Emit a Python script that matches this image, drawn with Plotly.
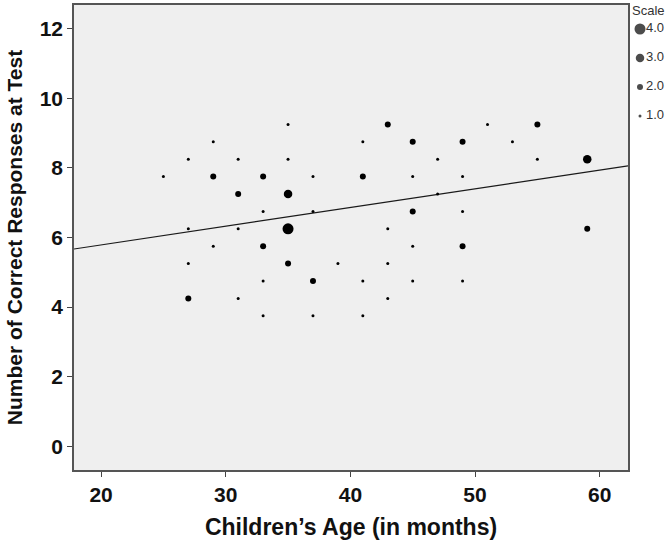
import plotly.graph_objects as go

# ---------------- Data ----------------
scale_labels = ["4.0", "3.0", "2.0", "1.0"]
scale_marker_px = [11, 8.5, 6, 3]

age_s4 = [35]
score_s4 = [6.25]

age_s3 = [35, 59]
score_s3 = [7.25, 8.25]

age_s2 = [29, 33, 31, 33, 35, 37, 27, 43, 55, 45, 49, 41, 45, 59, 49]
score_s2 = [7.75, 7.75, 7.25, 5.75, 5.25, 4.75, 4.25, 9.25, 9.25, 8.75, 8.75, 7.75, 6.75, 6.25, 5.75]

age_s1 = [35, 29, 27, 31, 35, 25, 37, 33, 37, 27, 31, 29, 27, 39, 33, 31, 33, 37,
          51, 41, 53, 47, 55, 45, 49, 47, 49, 43, 45, 43, 41, 45, 49, 43, 41]
score_s1 = [9.25, 8.75, 8.25, 8.25, 8.25, 7.75, 7.75, 6.75, 6.75, 6.25, 6.25, 5.75, 5.25, 5.25, 4.75, 4.25, 3.75, 3.75,
            9.25, 8.75, 8.75, 8.25, 8.25, 7.75, 7.75, 7.25, 6.75, 6.25, 5.75, 5.25, 4.75, 4.75, 4.75, 4.25, 3.75]

# Fit line (intercept, slope)
fit_intercept = 4.71
fit_slope = 0.0538

x_range = [17.83, 62.27]
y_range = [-0.68, 12.68]
x_ticks = [20, 30, 40, 50, 60]
y_ticks = [0, 2, 4, 6, 8, 10, 12]

# ---------------- Layout geometry (pixels) ----------------
W, H = 672, 541
L, R_PLOT, T, B_PLOT = 74, 628, 5, 470
paper_w = W - L
main_dom_x = [0, (R_PLOT - L) / paper_w]
legend_dom_x = [(R_PLOT - L + 1) / paper_w, 1.0]

fig = go.Figure()

fig.add_trace(go.Scatter(
    x=x_range, y=[fit_intercept + fit_slope * v for v in x_range],
    mode="lines", line=dict(color="#1a1a1a", width=1.2),
    showlegend=False, hoverinfo="skip"))

series = [(age_s4, score_s4), (age_s3, score_s3), (age_s2, score_s2), (age_s1, score_s1)]
for (xs, ys), lab, sz in zip(series, scale_labels, scale_marker_px):
    fig.add_trace(go.Scatter(
        x=xs, y=ys, mode="markers", name=lab, showlegend=False,
        marker=dict(color="black", size=sz, line=dict(width=0))))

# ---------------- Hand-drawn legend in the right margin (pixel axes) ----------------
leg_marker_x = 640
leg_text_x = 646
leg_first_y = 29
leg_step = 29
leg_ys = [leg_first_y + leg_step * i for i in range(len(scale_labels))]
leg_font = dict(family="Liberation Sans, Arial", size=13, color="#333")
fig.add_trace(go.Scatter(
    x=[leg_marker_x] * len(scale_labels), y=leg_ys, mode="markers",
    marker=dict(color="black", size=scale_marker_px, line=dict(width=0)),
    xaxis="x2", yaxis="y2", showlegend=False, hoverinfo="skip"))
fig.add_trace(go.Scatter(
    x=[leg_text_x] * len(scale_labels), y=leg_ys, mode="text", text=scale_labels,
    textposition="middle right", textfont=leg_font,
    xaxis="x2", yaxis="y2", showlegend=False, hoverinfo="skip"))
fig.add_trace(go.Scatter(
    x=[632], y=[12], mode="text", text=["Scale"], textposition="middle right",
    textfont=leg_font,
    xaxis="x2", yaxis="y2", showlegend=False, hoverinfo="skip"))

tick_font = dict(family="Liberation Sans, Arial", size=21, color="#111")

fig.update_layout(
    width=W, height=H,
    margin=dict(l=L, r=0, t=T, b=H - B_PLOT, autoexpand=False),
    paper_bgcolor="white",
    plot_bgcolor="white",
    showlegend=False,
    xaxis=dict(
        domain=main_dom_x,
        range=x_range, tickvals=x_ticks, ticktext=[f"<b>{v}</b>" for v in x_ticks],
        ticks="outside", ticklen=5, tickwidth=1, tickcolor="#444",
        showgrid=False, zeroline=False,
        showline=True, linecolor="#555", linewidth=1.5, mirror=True,
        tickfont=tick_font,
        title=dict(text="<b>Children’s Age (in months)</b>",
                   font=dict(family="Liberation Sans, Arial", size=23, color="#111"), standoff=14),
    ),
    yaxis=dict(
        range=y_range, tickvals=y_ticks, ticktext=[f"<b>{v}</b>" for v in y_ticks],
        ticks="outside", ticklen=5, tickwidth=1, tickcolor="#444",
        showgrid=False, zeroline=False,
        showline=True, linecolor="#555", linewidth=1.5, mirror=True,
        tickfont=tick_font,
        title=dict(text="<b>Number of Correct Responses at Test</b>",
                   font=dict(family="Liberation Sans, Arial", size=21, color="#111"), standoff=11),
    ),
    xaxis2=dict(domain=legend_dom_x, range=[R_PLOT + 1, W], visible=False, fixedrange=True),
    yaxis2=dict(domain=[0, 1], range=[B_PLOT, T], anchor="x2", visible=False, fixedrange=True),
)

# plot area fill
fig.add_shape(type="rect", xref="x domain", yref="y domain", x0=0, x1=1, y0=0, y1=1,
              fillcolor="#efefef", line=dict(width=0), layer="below")

fig.write_html("out.html", config={"displayModeBar": False},
               post_script="document.body.style.margin='0px';")
